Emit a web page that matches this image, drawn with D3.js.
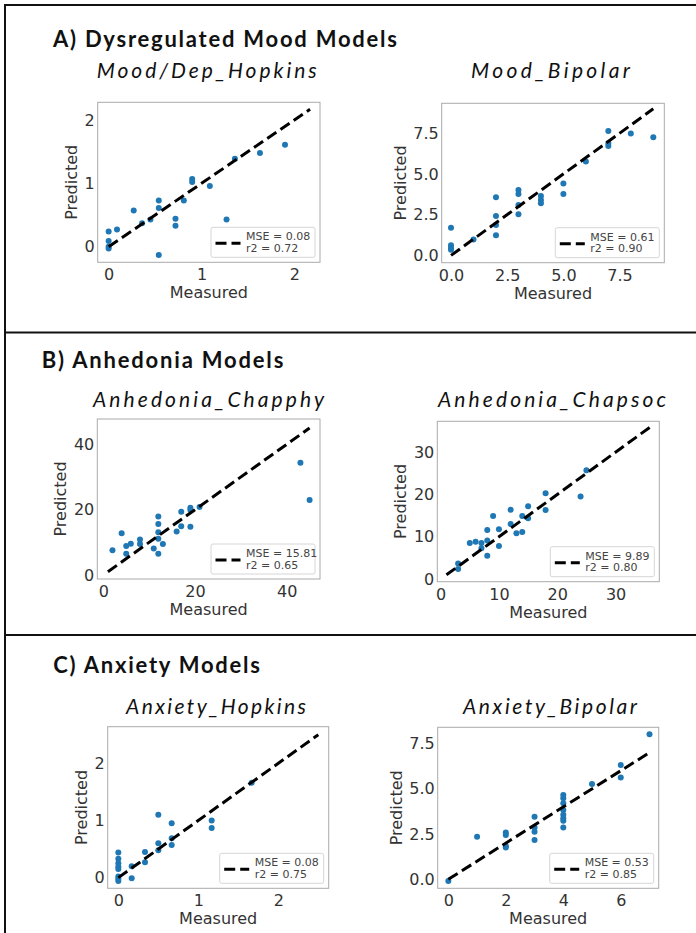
<!DOCTYPE html>
<html>
<head>
<meta charset="utf-8">
<script src="https://cdn.jsdelivr.net/npm/d3@7"></script>
<style>
    body { margin: 0; background: #fff; }
    svg { display: block; }
</style>
</head>
<body>
<svg id="mainSvg" width="696" height="933"></svg>
<script>
// ---- data ----
const sectionTitles = ["A) Dysregulated Mood Models", "B) Anhedonia Models", "C) Anxiety Models"];
const panelTitles = ["Mood/Dep_Hopkins", "Mood_Bipolar", "Anhedonia_Chapphy", "Anhedonia_Chapsoc", "Anxiety_Hopkins", "Anxiety_Bipolar"];
const mseValues = ["0.08", "0.61", "15.81", "9.89", "0.08", "0.53"];
const r2Values = ["0.72", "0.90", "0.65", "0.80", "0.75", "0.85"];

const moodHopkinsMeasured = [0, 0, 0, 0, 0.09, 0.27, 0.36, 0.45, 0.54, 0.54, 0.54, 0.72, 0.72, 0.81, 0.9, 0.9, 1.09, 1.27, 1.36, 1.63, 1.9];
const moodHopkinsPredicted = [0.24, 0.09, 0.0, -0.03, 0.27, 0.57, 0.37, 0.43, 0.73, 0.61, -0.13, 0.44, 0.33, 0.73, 1.07, 1.02, 0.96, 0.43, 1.39, 1.48, 1.61];

const moodBipolarMeasured = [0, 0, 0, 0, 1, 2, 2, 2, 2, 3, 3, 3, 3, 4, 4, 4, 5, 5, 6, 7, 7, 7, 8, 9];
const moodBipolarPredicted = [1.70, 0.62, 0.45, 0.35, 0.98, 3.57, 2.42, 1.86, 1.23, 4.02, 3.77, 3.09, 2.52, 3.65, 3.40, 3.20, 4.41, 3.77, 5.76, 7.64, 6.89, 6.72, 7.48, 7.25];

const chapphyMeasured = [2, 4, 5, 5, 6, 8, 8, 11, 12, 12, 12, 12, 12, 13, 16, 17, 17, 19, 19, 19, 21, 43, 45];
const chapphyPredicted = [7.6, 12.8, 8.9, 6.5, 9.6, 10.9, 9.5, 8.1, 17.9, 15.6, 13.1, 11.1, 6.5, 9.5, 13.3, 19.4, 14.9, 20.6, 19.9, 14.8, 20.8, 34.4, 23.0];

const chapsocMeasured = [3, 3, 5, 6, 7, 7, 8, 8, 8, 9, 10, 10, 12, 12, 13, 14, 14, 15, 15, 18, 18, 24, 25];
const chapsocPredicted = [3.7, 2.4, 8.5, 8.8, 8.5, 7.3, 11.6, 9.1, 5.5, 14.9, 11.8, 7.8, 16.4, 13.0, 10.8, 14.9, 11.1, 17.2, 14.4, 20.3, 16.3, 19.5, 25.7];

const anxHopkinsMeasured = [0, 0, 0, 0, 0, 0, 0, 0, 0.167, 0.167, 0.333, 0.333, 0.5, 0.5, 0.5, 0.667, 0.667, 0.667, 1.167, 1.167, 1.667];
const anxHopkinsPredicted = [0.44, 0.33, 0.25, 0.19, 0.15, 0.02, -0.02, -0.06, -0.01, 0.2, 0.45, 0.27, 1.10, 0.60, 0.48, 0.95, 0.69, 0.57, 1.0, 0.87, 1.66];

const anxBipolarMeasured = [0, 1, 2, 2, 2, 2, 3, 3, 3, 3, 4, 4, 4, 4, 4, 4, 4, 4, 5, 6, 6, 7];
const anxBipolarPredicted = [-0.1, 2.35, 2.58, 2.45, 1.84, 1.75, 3.46, 2.86, 2.63, 2.17, 4.66, 4.48, 4.2, 3.83, 3.56, 3.37, 3.24, 2.86, 5.27, 6.32, 5.62, 8.02];

// dashed y = x line extent per panel
const fitRanges = [[0, 2.17], [0, 9], [1, 45], [1, 36], [0, 2.5], [0, 7]];
const tickValues = [[0, 1, 2], [0, 2.5, 5, 7.5], [0, 20, 40], [0, 10, 20, 30], [0, 1, 2], null];
const xTickValuesC2 = [0, 2, 4, 6], yTickValuesC2 = [0, 2.5, 5, 7.5];

const seriesMeasured = [moodHopkinsMeasured, moodBipolarMeasured, chapphyMeasured, chapsocMeasured, anxHopkinsMeasured, anxBipolarMeasured];
const seriesPredicted = [moodHopkinsPredicted, moodBipolarPredicted, chapphyPredicted, chapsocPredicted, anxHopkinsPredicted, anxBipolarPredicted];

// ---- layout ----
let svg = d3.select('#mainSvg');
const dotColor = "#1f77b4", textColor = "#333";

const layout = [
    {box: [97.7, 320, 102.3, 262.3], xDom: [-0.118, 2.277], yDom: [-0.246, 2.28], fmt: "d", title: [96.7, 316.7, 77.7]},
    {box: [441.7, 664.3, 103.3, 262.7], xDom: [-0.415, 9.49], yDom: [-0.45, 9.34], fmt: ".1f", title: [471, 630, 77.7]},
    {box: [97.3, 320, 419, 579], xDom: [-1.31, 47.27], yDom: [-1.22, 47.76], fmt: "d", title: [93, 324, 406.5]},
    {box: [437.3, 659.3, 421.3, 581.7], xDom: [-0.57, 37.5], yDom: [-0.63, 37.3], fmt: "d", title: [438, 666, 406.5]},
    {box: [107.7, 328.7, 726.7, 888.3], xDom: [-0.133, 2.63], yDom: [-0.187, 2.64], fmt: "d", title: [126, 306, 714.3]},
    {box: [437.7, 658.7, 727.3, 888.3], xDom: [-0.37, 7.32], yDom: [-0.5, 8.40], fmt: null, title: [463, 637, 714.3]}
];
const sectionLayout = [[53, 397, 46.7], [41.7, 283.3, 367.7], [53.3, 260, 672.7]];

/**
 * 外框和分隔线
 */
const drawFrame = function () {
    svg.append("line").attr("x1", 4).attr("x2", 696).attr("y1", 5).attr("y2", 5)
        .attr("stroke", "#111").attr("stroke-width", 2);
    svg.append("line").attr("x1", 5).attr("x2", 5).attr("y1", 4).attr("y2", 933)
        .attr("stroke", "#111").attr("stroke-width", 2);
    [332.5, 635].forEach(y => {
        svg.append("line").attr("x1", 4).attr("x2", 696).attr("y1", y).attr("y2", y)
            .attr("stroke", "#111").attr("stroke-width", 2.2);
    });

    sectionTitles.forEach((t, i) => {
        const s = sectionLayout[i];
        svg.append("text")
            .text(t)
            .attr("x", s[0]).attr("y", s[2])
            .attr("textLength", s[1] - s[0])
            .attr("lengthAdjust", "spacing")
            .attr("font-family", "Lato, 'Open Sans', sans-serif")
            .attr("font-weight", "bold")
            .attr("font-size", 22)
            .attr("fill", "#111");
    });
};

/**
 * 单个散点图
 */
function drawPanel(i) {
    const L = layout[i];
    const [left, right, top, bottom] = L.box;
    const x = d3.scaleLinear().domain(L.xDom).range([left, right]);
    const y = d3.scaleLinear().domain(L.yDom).range([bottom, top]);
    const fmt = L.fmt ? d3.format(L.fmt) : d3.format(".1f");
    const xt = tickValues[i] || xTickValuesC2;
    const yt = tickValues[i] || yTickValuesC2;
    const fmtX = i === 5 ? d3.format("d") : fmt;

    const g = svg.append("g");

    // title
    g.append("text")
        .text(panelTitles[i])
        .attr("x", L.title[0]).attr("y", L.title[2])
        .attr("textLength", L.title[1] - L.title[0])
        .attr("lengthAdjust", "spacing")
        .attr("font-family", "Lato, 'Open Sans', sans-serif")
        .attr("font-style", "italic")
        .attr("font-size", 21)
        .attr("fill", "#111");

    // axes
    const xAxis = g.append("g")
        .attr("transform", `translate(0,${bottom})`)
        .call(d3.axisBottom(x).tickValues(xt).tickFormat(fmtX).tickSize(0).tickPadding(6.6));
    const yAxis = g.append("g")
        .attr("transform", `translate(${left},0)`)
        .call(d3.axisLeft(y).tickValues(yt).tickFormat(fmt).tickSize(0).tickPadding(3));
    [xAxis, yAxis].forEach(a => {
        a.select(".domain").remove();
        a.selectAll("text")
            .attr("font-family", "'DejaVu Sans', sans-serif")
            .attr("font-size", 16)
            .attr("fill", textColor);
    });

    g.append("rect")
        .attr("x", left).attr("y", top)
        .attr("width", right - left).attr("height", bottom - top)
        .attr("fill", "none")
        .attr("stroke", "#aaa")
        .attr("stroke-width", 1);

    // labels
    g.append("text")
        .text("Measured")
        .attr("x", (left + right) / 2).attr("y", bottom + 36)
        .attr("text-anchor", "middle")
        .attr("font-family", "'DejaVu Sans', sans-serif")
        .attr("font-size", 16)
        .attr("fill", textColor);

    let maxW = 0;
    yAxis.selectAll("text").each(function () {
        maxW = Math.max(maxW, this.getComputedTextLength());
    });
    const cx = left - 3 - maxW - 13.5;
    g.append("text")
        .text("Predicted")
        .attr("transform", `translate(${cx},${(top + bottom) / 2}) rotate(-90)`)
        .attr("dy", "0.36em")
        .attr("text-anchor", "middle")
        .attr("font-family", "'DejaVu Sans', sans-serif")
        .attr("font-size", 16)
        .attr("fill", textColor);

    // points
    const pts = seriesMeasured[i].map((m, k) => ({m: m, p: seriesPredicted[i][k]}));
    g.selectAll("circle").data(pts).join("circle")
        .attr("cx", d => x(d.m))
        .attr("cy", d => y(d.p))
        .attr("r", 3)
        .attr("fill", dotColor);

    // dashed identity line
    const fr = fitRanges[i];
    g.append("line")
        .attr("x1", x(fr[0])).attr("y1", y(fr[0]))
        .attr("x2", x(fr[1])).attr("y2", y(fr[1]))
        .attr("stroke", "black")
        .attr("stroke-width", 3)
        .attr("stroke-dasharray", "11,5");

    // legend
    const lw = 104, lh = 30;
    const lx = right - 5 - lw, ly = bottom - 5 - lh;
    const lg = g.append("g").attr("transform", `translate(${lx},${ly})`);
    lg.append("rect")
        .attr("width", lw).attr("height", lh)
        .attr("rx", 2)
        .attr("fill", "white").attr("fill-opacity", 0.85)
        .attr("stroke", "#d6d6d6");
    lg.append("line")
        .attr("x1", 4.5).attr("x2", 29.5)
        .attr("y1", lh / 2 + 1).attr("y2", lh / 2 + 1)
        .attr("stroke", "black").attr("stroke-width", 3)
        .attr("stroke-dasharray", "11,5");
    lg.append("text")
        .text("MSE = " + mseValues[i])
        .attr("x", 35).attr("y", lh / 2 - 2)
        .attr("font-family", "'DejaVu Sans', sans-serif")
        .attr("font-size", 11)
        .attr("fill", "#444");
    lg.append("text")
        .text("r2 = " + r2Values[i])
        .attr("x", 35).attr("y", lh / 2 + 9.5)
        .attr("font-family", "'DejaVu Sans', sans-serif")
        .attr("font-size", 11)
        .attr("fill", "#444");
}

/**
 * 主函数
 */
function main() {
    drawFrame();
    for (let i = 0; i < panelTitles.length; i++) drawPanel(i);
}

main();
</script>
</body>
</html>
